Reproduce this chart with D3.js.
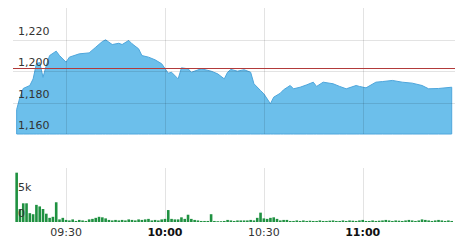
<!DOCTYPE html>
<html>
<head>
<meta charset="utf-8">
<script src="https://cdn.jsdelivr.net/npm/d3@7"></script>
<style>
  body { margin: 0; background: #fff; }
  text { font-family: "DejaVu Sans", Verdana, sans-serif; font-size: 11px; fill: #333; }
</style>
</head>
<body>
<svg id="chart"></svg>
<script>
const priceTimes = ["09:15", "09:16", "09:17", "09:19", "09:20", "09:21", "09:22", "09:23", "09:24", "09:25",
  "09:27", "09:28", "09:30", "09:31", "09:34", "09:37", "09:39", "09:41", "09:42", "09:43",
  "09:44", "09:46", "09:47", "09:49", "09:50", "09:52", "09:53", "09:55", "09:57", "09:59",
  "10:00", "10:01", "10:02", "10:04", "10:05", "10:07", "10:08", "10:11", "10:14", "10:16",
  "10:18", "10:19", "10:20", "10:22", "10:24", "10:26", "10:27", "10:29", "10:30", "10:32",
  "10:33", "10:35", "10:36", "10:38", "10:39", "10:41", "10:43", "10:45", "10:46", "10:48",
  "10:51", "10:53", "10:55", "10:58", "10:59", "11:01", "11:04", "11:06", "11:09", "11:12",
  "11:15", "11:18", "11:20", "11:23", "11:27"];
const prices = [1175.5, 1183.4, 1188.9, 1190.8, 1195.0, 1204.7, 1205.4, 1196.0, 1203.5, 1209.8,
  1212.6, 1209.8, 1205.6, 1208.8, 1210.9, 1211.5, 1215.1, 1218.7, 1219.8, 1218.3,
  1216.8, 1217.6, 1216.8, 1219.4, 1217.3, 1214.1, 1209.8, 1208.8, 1207.1, 1204.6,
  1201.6, 1198.6, 1199.2, 1195.0, 1202.0, 1201.4, 1199.2, 1201.4, 1199.9, 1198.2,
  1195.0, 1199.2, 1201.0, 1199.9, 1200.8, 1199.2, 1191.9, 1187.6, 1185.5, 1179.2,
  1183.4, 1185.9, 1188.1, 1190.8, 1188.7, 1189.7, 1191.2, 1192.9, 1190.2, 1192.9,
  1191.9, 1190.2, 1188.7, 1190.8, 1190.2, 1189.3, 1192.9, 1193.3, 1194.0, 1192.9,
  1192.3, 1190.8, 1188.7, 1188.9, 1189.7];
const prevClose = 1202.2;

// one bar per minute, starting at 09:15
const volumeStart = "09:15";
const volumes = [9500, 2500, 3600, 3600, 1700, 1500, 3300, 3000, 2500, 1600, 800, 1000, 3800, 500, 800, 400,
  300, 500, 200, 400, 300, 200, 500, 600, 800, 1000, 900, 700, 400, 300, 400, 300, 400, 300, 500, 400,
  300, 500, 400, 500, 600, 300, 400, 300, 500,
  600, 2300, 600, 500, 500, 900, 600, 1400, 600, 400, 300, 200, 200, 200, 1500, 200, 150, 150, 200, 400,
  300, 200, 300, 300, 300, 300, 400, 300, 800, 1800,
  700, 600, 800, 900, 600, 300, 400, 400, 200, 200, 300, 200, 300, 200, 250, 200, 200, 300, 200, 200,
  250, 300, 200, 200, 300, 200, 300, 250, 200, 300, 400, 200, 200, 300, 200, 250, 300, 400, 300, 200,
  300, 250, 200, 300, 400, 300, 200, 300, 500, 400, 300, 200, 300, 400, 300, 200, 300, 200];

const priceTicks = [1160, 1180, 1200, 1220];
const volumeTicks = [0, 5000];
const timeTicks = ["09:30", "10:00", "10:30", "11:00"];

const width = 471, height = 249;
const parseTime = d3.timeParse("%H:%M");
const parseTimeSec = d3.timeParse("%H:%M:%S");

const svg = d3.select("#chart").attr("width", width).attr("height", height);

const x = d3.scaleTime()
  .domain([parseTimeSec("09:14:30"), parseTimeSec("11:28:00")])
  .range([15, 455]);
const y = d3.scaleLinear().domain([1160, 1240]).range([134, 8]);
const yVol = d3.scaleLinear().domain([0, 10400]).range([222, 168]);

const priceData = priceTimes.map((t, i) => ({t: parseTime(t), v: prices[i]}));
const t0 = parseTime(volumeStart);
const volData = volumes.map((v, i) => ({t: d3.timeMinute.offset(t0, i), v: v}));

// price area
svg.append("path")
  .datum(priceData)
  .attr("fill", "#6cbfeb")
  .attr("stroke", "#4ea6dc")
  .attr("stroke-width", 1)
  .attr("d", d3.area()
    .x(d => x(d.t))
    .y0(y(1160))
    .y1(d => y(d.v)));

// grid on top, faint
const grid = svg.append("g").attr("stroke", "rgba(0,0,0,0.11)").attr("stroke-width", 1);
grid.selectAll("line.h")
  .data(priceTicks.filter(d => d > 1160))
  .enter()
  .append("line")
  .attr("x1", 13).attr("x2", 455)
  .attr("y1", d => Math.round(y(d)) + 0.5)
  .attr("y2", d => Math.round(y(d)) + 0.5);
grid.selectAll("line.v")
  .data(timeTicks)
  .enter()
  .append("line")
  .attr("x1", d => Math.round(x(parseTime(d))) + 0.5)
  .attr("x2", d => Math.round(x(parseTime(d))) + 0.5)
  .attr("y1", 8).attr("y2", 134);
grid.selectAll("line.vv")
  .data(timeTicks)
  .enter()
  .append("line")
  .attr("x1", d => Math.round(x(parseTime(d))) + 0.5)
  .attr("x2", d => Math.round(x(parseTime(d))) + 0.5)
  .attr("y1", 168).attr("y2", 222);

// previous close
svg.append("line")
  .attr("x1", 13).attr("x2", 455)
  .attr("y1", Math.round(y(prevClose)) + 0.5)
  .attr("y2", Math.round(y(prevClose)) + 0.5)
  .attr("stroke", "#b23a3a")
  .attr("stroke-width", 1);

// volume bars
svg.append("g")
  .selectAll("rect")
  .data(volData)
  .enter()
  .append("rect")
  .attr("x", d => x(d.t) - 1.3)
  .attr("width", 2.6)
  .attr("y", d => yVol(d.v))
  .attr("height", d => yVol(0) - yVol(d.v))
  .attr("fill", "#1f9141");

// labels
svg.append("g")
  .selectAll("text")
  .data(priceTicks)
  .enter()
  .append("text")
  .attr("x", 18)
  .attr("y", d => y(d) - 5)
  .text(d => d3.format(",")(d));

svg.append("g")
  .selectAll("text")
  .data(volumeTicks)
  .enter()
  .append("text")
  .attr("x", 18)
  .attr("y", d => yVol(d) - 5)
  .text(d => d === 0 ? "0" : d3.format("~s")(d));

svg.append("g")
  .selectAll("text")
  .data(timeTicks)
  .enter()
  .append("text")
  .attr("x", d => x(parseTime(d)))
  .attr("y", 236)
  .attr("text-anchor", "middle")
  .style("font-weight", d => d.endsWith(":00") ? "bold" : "normal")
  .style("fill", d => d.endsWith(":00") ? "#111" : "#333")
  .text(d => d);
</script>
</body>
</html>
